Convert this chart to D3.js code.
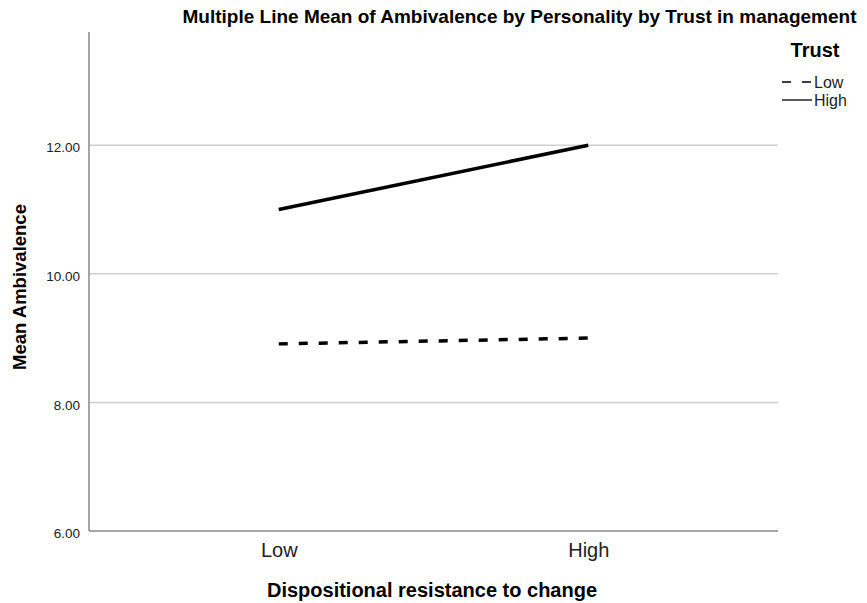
<!DOCTYPE html>
<html>
<head>
<meta charset="utf-8">
<script src="https://cdn.jsdelivr.net/npm/d3@7"></script>
<style>
  body { margin: 0; background: #fff; }
  text { font-family: "Liberation Sans", Arial, sans-serif; }
</style>
</head>
<body>
<svg id="chart" width="867" height="603"></svg>
<script>
// categories on the x axis
const resistance = ["Low", "High"];
// series: mean ambivalence by trust group
const trustGroups = ["Low", "High"];
const lowTrust = [8.91, 9.00];
const highTrust = [11.00, 12.00];
const yTicks = [6, 8, 10, 12];

const svg = d3.select("#chart");
const margin = {top: 32, right: 89, bottom: 72, left: 89};
const width = 867 - margin.left - margin.right;
const height = 603 - margin.top - margin.bottom;

const x = d3.scalePoint()
    .domain(resistance)
    .range([0, width])
    .padding(0.613);

const y = d3.scaleLinear()
    .domain([6, 13.76])
    .range([height, 0]);

const g = svg.append("g")
    .attr("transform", `translate(${margin.left}, ${margin.top})`);

// grid lines
g.selectAll(".grid")
  .data(yTicks.filter(d => d > 6))
  .enter()
  .append("line")
  .attr("x1", 0)
  .attr("x2", width)
  .attr("y1", d => y(d))
  .attr("y2", d => y(d))
  .attr("stroke", "#d0d0d0")
  .attr("stroke-width", 1.5);

// y axis
let yAxis = d3.axisLeft(y)
    .tickValues(yTicks)
    .tickFormat(d3.format(".2f"))
    .tickSize(0)
    .tickPadding(9);
let yG = g.append("g").call(yAxis);
yG.select(".domain").remove();
yG.selectAll("text")
  .style("font-size", "13.5px")
  .attr("dy", "0.5em")
  .attr("fill", "#222");

// x axis
let xAxis = d3.axisBottom(x).tickSize(0).tickPadding(12);
let xG = g.append("g")
    .attr("transform", `translate(0, ${height})`)
    .call(xAxis);
xG.select(".domain").remove();
xG.selectAll("text")
  .style("font-size", "20px")
  .attr("fill", "#222");

// axis lines
g.append("line")
  .attr("x1", 0).attr("x2", 0)
  .attr("y1", 0).attr("y2", height)
  .attr("stroke", "#888").attr("stroke-width", 1.5);
g.append("line")
  .attr("x1", 0).attr("x2", width)
  .attr("y1", height).attr("y2", height)
  .attr("stroke", "#888").attr("stroke-width", 1.5);

// lines
const line = d3.line()
    .x((d, i) => x(resistance[i]))
    .y(d => y(d));

g.append("path")
  .datum(lowTrust)
  .attr("d", line)
  .attr("fill", "none")
  .attr("stroke", "#000")
  .attr("stroke-width", 3.5)
  .attr("stroke-dasharray", "9,11");

g.append("path")
  .datum(highTrust)
  .attr("d", line)
  .attr("fill", "none")
  .attr("stroke", "#000")
  .attr("stroke-width", 3.5);

// title
svg.append("text")
  .attr("x", 519.5)
  .attr("y", 23)
  .attr("text-anchor", "middle")
  .style("font-size", "19px")
  .style("font-weight", "bold")
  .text("Multiple Line Mean of Ambivalence by Personality by Trust in management");

// axis titles
svg.append("text")
  .attr("transform", `translate(26, 287) rotate(-90)`)
  .attr("text-anchor", "middle")
  .style("font-size", "18.5px")
  .style("font-weight", "bold")
  .text("Mean Ambivalence");

svg.append("text")
  .attr("x", 432)
  .attr("y", 597)
  .attr("text-anchor", "middle")
  .style("font-size", "20px")
  .style("font-weight", "bold")
  .text("Dispositional resistance to change");

// legend
let legend = svg.append("g").attr("transform", "translate(782, 0)");
legend.append("text")
  .attr("x", 33)
  .attr("y", 57)
  .attr("text-anchor", "middle")
  .style("font-size", "20px")
  .style("font-weight", "bold")
  .text("Trust");

legend.selectAll(".item")
  .data(trustGroups)
  .enter()
  .append("g")
  .attr("transform", (d, i) => `translate(0, ${82 + i * 18})`)
  .each(function(d, i) {
    let item = d3.select(this);
    item.append("line")
      .attr("x1", 0).attr("x2", 30)
      .attr("y1", 0).attr("y2", 0)
      .attr("stroke", "#000")
      .attr("stroke-width", 1.3)
      .attr("stroke-dasharray", i == 0 ? "9,11" : null);
    item.append("text")
      .attr("x", 32)
      .attr("y", 6)
      .style("font-size", "16px")
      .attr("fill", "#222")
      .text(d);
  });
</script>
</body>
</html>
